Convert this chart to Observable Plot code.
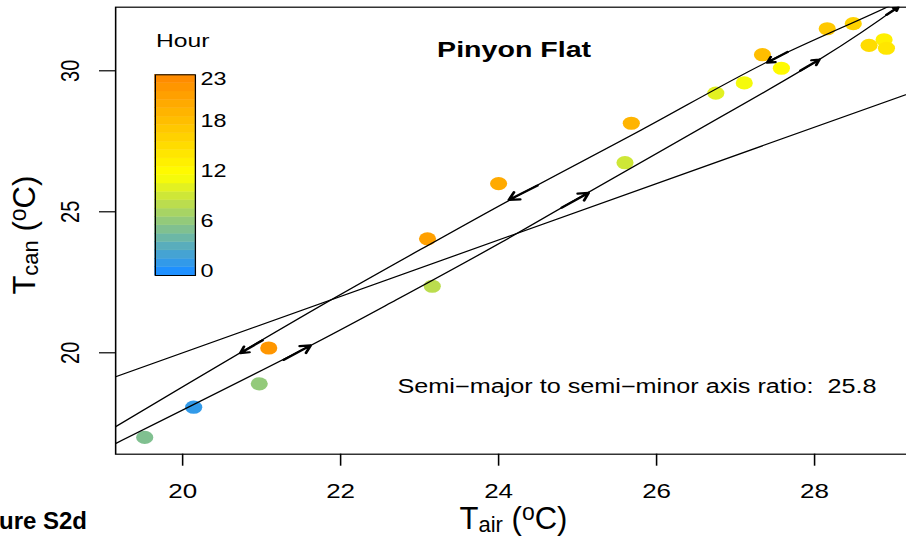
<!DOCTYPE html>
<html>
<head>
<meta charset="utf-8">
<script src="https://cdn.jsdelivr.net/npm/d3@7"></script>
<script src="https://cdn.jsdelivr.net/npm/@observablehq/plot@0.6"></script>
<style>
  html, body { margin: 0; padding: 0; background: #fff; overflow: hidden; }
  #page { position: relative; width: 906px; height: 542px; overflow: hidden; }
  #stage { position: absolute; left: 0; top: 0; width: 701.5px; height: 542px; transform-origin: 0 0; }
  #stage svg { position: absolute; max-width: none; overflow: visible; }
  #caption { position: absolute; left: -37px; top: 509px; font: bold 24px/24px "Liberation Sans", Arial, Helvetica, sans-serif; white-space: nowrap; color: #000; }
</style>
</head>
<body>
<div id="page">
  <div id="stage"></div>
  <div id="caption">Figure S2d</div>
</div>
<script>
// Hourly canopy vs. air temperature at Pinyon Flat, with the fitted hysteresis ellipse.
const hour = [1, 5, 6, 8, 9, 10, 11, 12, 13, 14, 15, 16, 17, 18, 19, 20, 21, 22];
const tAir = [20.14, 19.52, 20.97, 23.16, 25.60, 26.75, 27.11, 27.58, 28.88, 28.91, 28.69, 28.49, 28.16, 27.34, 25.68, 24.00, 23.10, 21.09];
const tCan = [18.07, 17.00, 18.90, 22.36, 26.74, 29.21, 29.57, 30.09, 31.10, 30.80, 30.90, 31.67, 31.49, 30.57, 28.14, 26.00, 24.04, 20.17];

// Fitted ellipse: warming (lower) and cooling (upper) branches
const warmingAir = [18.96, 19.14, 21.62, 22.70, 24.03, 25.10, 26.56, 28.05, 29.05, 29.28];
const warmingCan = [16.52, 16.77, 20.26, 21.87, 23.91, 25.63, 27.96, 30.38, 32.26, 32.78];
const coolingAir = [18.96, 19.14, 20.73, 21.87, 23.01, 24.15, 25.80, 27.40, 28.92, 29.28];
const coolingCan = [17.06, 17.36, 20.00, 21.86, 23.66, 25.43, 27.89, 30.31, 32.26, 32.78];

// Direction arrows along the ellipse
const arrowAir1 = [21.01, 24.49, 27.66, 21.28, 24.80, 27.82, 28.91];
const arrowCan1 = [20.44, 25.93, 30.67, 19.75, 25.15, 30.01, 31.98];
const arrowAir2 = [20.73, 24.13, 27.40, 21.62, 25.14, 28.06, 29.06];
const arrowCan2 = [19.99, 25.42, 30.29, 20.26, 25.67, 30.40, 32.26];

const xTicks = [20, 22, 24, 26, 28];
const yTicks = [20, 25, 30];
const xDomain = [19.152, 29.241];
const yDomain = [16.404, 32.255];
const legendHours = d3.range(24);
const legendTicks = [0, 6, 12, 18, 23];
const rampColors = ["#1E90FF", "#FFFF00", "#FF8C00"];

const title = "Pinyon Flat";
const ratioLabel = "Semi\u2212major to semi\u2212minor axis ratio:\u00a0 25.8";
const ratioX = 22.72, ratioY = 18.59;

const FONT = '"Liberation Sans", Arial, Helvetica, sans-serif';
const S = 1.3; // the figure is drawn horizontally stretched

const points = hour.map((h, i) => ({hour: h, air: tAir[i], can: tCan[i]}));
const warming = warmingAir.map((x, i) => ({air: x, can: warmingCan[i]}));
const cooling = coolingAir.map((x, i) => ({air: x, can: coolingCan[i]}));
const arrows = arrowAir1.map((x, i) => ({x1: x, y1: arrowCan1[i], x2: arrowAir2[i], y2: arrowCan2[i]}));

const colorScale = {type: "linear", domain: [0, 23], interpolate: d3.piecewise(d3.interpolateRgb, rampColors)};

const stage = document.getElementById("stage");
stage.style.transform = `scaleX(${S})`;

const chart = Plot.plot({
  width: 701.5,
  height: 542,
  marginLeft: 115 / S,
  marginRight: 0,
  marginTop: 6.7,
  marginBottom: 88.3,
  x: {domain: xDomain},
  y: {domain: yDomain},
  color: colorScale,
  style: {fontFamily: FONT, fontSize: "20px", color: "black", background: "transparent"},
  marks: [
    Plot.frame({stroke: "black", strokeWidth: 1.2}),
    Plot.axisX({ticks: xTicks, tickSize: 12, tickPadding: 18, fontSize: 20, label: null, strokeWidth: 1.2}),
    Plot.axisY({ticks: yTicks, tickSize: 12.3, tickRotate: -90, tickPadding: 16, fontSize: 20, label: null, strokeWidth: 1.2}),
    Plot.dot(points, {x: "air", y: "can", fill: "hour", r: 6.6}),
    Plot.line(xDomain, {x: d => d, y: d => d, stroke: "black", strokeWidth: 1.2, clip: true}),
    Plot.line(warming, {x: "air", y: "can", curve: "catmull-rom", stroke: "black", strokeWidth: 1.2, clip: true}),
    Plot.line(cooling, {x: "air", y: "can", curve: "catmull-rom", stroke: "black", strokeWidth: 1.2, clip: true}),
    Plot.arrow(arrows, {x1: "x1", y1: "y1", x2: "x2", y2: "y2", stroke: "black", strokeWidth: 2.2, headLength: 9, clip: true}),
    Plot.text([title], {frameAnchor: "top", dy: 49.3, lineAnchor: "bottom", fontWeight: "bold", fontSize: 22, text: d => d}),
    Plot.text([ratioLabel], {x: ratioX, y: ratioY, text: d => d, textAnchor: "start", lineAnchor: "bottom", fontSize: 19.4})
  ]
});
chart.style.left = "0px";
chart.style.top = "0px";
stage.appendChild(chart);

// Axis titles with sub- and superscripts, kept at natural width
const svg = d3.select(chart);
const [xr0, xr1] = chart.scale("x").range;
const [yBottom, yTop] = chart.scale("y").range;

function axisTitle(sel, sub) {
  sel.attr("text-anchor", "middle")
    .attr("font-family", FONT)
    .attr("font-size", 31)
    .attr("fill", "black")
    .style("white-space", "pre");
  sel.append("tspan").text("T");
  sel.append("tspan").attr("font-size", 22).attr("dy", 3).text(sub);
  sel.append("tspan").attr("dy", -3).text(" (");
  sel.append("tspan").attr("font-size", 23).attr("dy", -9).text("o");
  sel.append("tspan").attr("dy", 9).text("C)");
}

svg.append("text")
  .attr("transform", `translate(${(xr0 + xr1) / 2},${yBottom + 75.6}) scale(${1 / S},1)`)
  .call(axisTitle, "air");

svg.append("text")
  .attr("transform", `translate(${35 / S},${(yBottom + yTop) / 2 + 5}) scale(${1 / S},1) rotate(-90)`)
  .call(axisTitle, "can");

// Colour bar legend for hour of day
const legend = Plot.plot({
  width: 62,
  height: 260,
  marginLeft: 0,
  marginRight: 31.2,
  marginTop: 54.3,
  marginBottom: 5,
  x: {axis: null, padding: 0, round: false},
  y: {type: "band", domain: legendHours.slice().reverse(), padding: 0, round: false, axis: null},
  color: colorScale,
  style: {fontFamily: FONT, fontSize: "18px", color: "black", background: "transparent"},
  marks: [
    Plot.cell(legendHours, {x: () => "Hour", y: d => d, fill: d => d, stroke: d => d, strokeWidth: 0.4}),
    Plot.frame({stroke: "black", strokeWidth: 1}),
    Plot.axisY({anchor: "right", ticks: legendTicks, tickSize: 0, tickPadding: 4, fontSize: 18, label: null}),
    Plot.text(["Hour"], {frameAnchor: "top-left", textAnchor: "start", lineAnchor: "bottom", dy: -28.3, dx: 0.5, fontSize: 19, text: d => d})
  ]
});
legend.style.left = (154.3 / S) + "px";
legend.style.top = "20px";
stage.appendChild(legend);
</script>
</body>
</html>
